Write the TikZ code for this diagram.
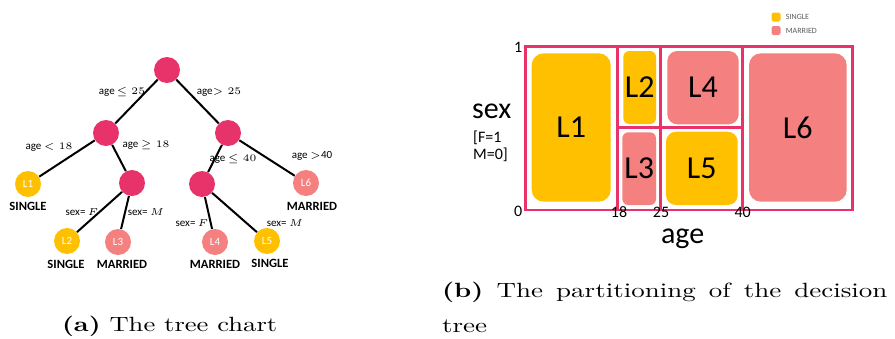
\documentclass[tikz,border=0pt]{standalone}
\usepackage{fontspec}
\usepackage{graphicx}
\newfontfamily\carl{Carlito}
\definecolor{crim}{RGB}{232,51,106}
\definecolor{gold}{RGB}{255,192,0}
\definecolor{salm}{RGB}{244,128,128}
\definecolor{leggray}{RGB}{90,90,90}
\begin{document}
\begin{tikzpicture}[x=0.5pt,y=-0.5pt,
  inner/.style={circle,fill=crim,minimum size=13pt,inner sep=0pt},
  leafy/.style={circle,fill=gold,minimum size=13pt,inner sep=0pt,text=white,font=\carl\fontsize{5.5}{6}\selectfont},
  leafs/.style={circle,fill=salm,minimum size=13pt,inner sep=0pt,text=white,font=\carl\fontsize{5.5}{6}\selectfont},
  edge/.style={line width=1pt,black},
  elab/.style={font=\carl\fontsize{5.5}{6.5}\selectfont,inner sep=0pt},
  cls/.style={font=\carl\bfseries\fontsize{6.3}{7}\selectfont,inner sep=0pt},
  grid/.style={draw=crim,line width=1.25pt},
  boxy/.style={fill=gold},
  boxs/.style={fill=salm},
  blab/.style={font=\carl\fontsize{16}{18}\selectfont,inner sep=0pt},
  tick/.style={font=\carl\fontsize{8}{9}\selectfont,inner sep=0pt},
  axl/.style={font=\carl\fontsize{15}{17}\selectfont,inner sep=0pt},
  legt/.style={font=\carl\fontsize{4}{5}\selectfont,text=leggray,inner sep=0pt,anchor=west},
  captxt/.style={font=\fontsize{10.3}{12.5}\selectfont,inner sep=0pt,anchor=base west}
]
\useasboundingbox (0,0) rectangle (895,338);

% ---------- tree ----------
\node[inner] (r) at (167,70) {};
\node[inner] (a) at (106,133) {};
\node[inner] (b) at (228,133) {};
\node[leafy] (l1) at (28,184) {L1};
\node[inner] (c) at (132,183) {};
\node[inner] (d) at (202,184) {};
\node[leafs] (l6) at (306,183) {L6};
\node[leafy] (l2) at (67,241) {L2};
\node[leafs] (l3) at (118,242) {L3};
\node[leafs] (l4) at (215,242) {L4};
\node[leafy] (l5) at (267,241) {L5};

\draw[edge] (r) -- (a);
\draw[edge] (r) -- (b);
\draw[edge] (a) -- (l1);
\draw[edge] (a) -- (c);
\draw[edge] (b) -- (d);
\draw[edge] (b) -- (l6);
\draw[edge] (c) -- (l2);
\draw[edge] (c) -- (l3);
\draw[edge] (d) -- (l4);
\draw[edge] (d) -- (l5);

\node[elab] (e1) at (122,92) {age\,$\leq 25$};
\node[elab] (e2) at (219,92) {age$>25$};
\node[elab] (e3) at (49,147) {age $<18$};
\node[elab] (e4) at (146,145) {age $\geq 18$};
\node[elab] (e5) at (233,159) {age $\leq 40$};
\node[elab] (e6) at (312,156) {age $>$40};
\node[elab] (e7) at (82,212) {sex= $F$};
\node[elab] (e8) at (146,212) {sex= $M$};
\node[elab] (e9) at (192,223) {sex= $F$};
\node[elab] (e10) at (285,223) {sex= $M$};

\node[cls] (c1) at (28,206) {SINGLE};
\node[cls] (c6) at (312,206) {MARRIED};
\node[cls] (c2) at (66,264) {SINGLE};
\node[cls] (c3) at (122,264) {MARRIED};
\node[cls] (c4) at (215,264) {MARRIED};
\node[cls] (c5) at (270,263) {SINGLE};

% ---------- partition ----------
\fill[boxy,rounded corners=6pt] (531.7,53.3) rectangle (610.7,201.7);
\fill[boxy,rounded corners=3pt] (623.3,51) rectangle (656,124);
\fill[boxs,rounded corners=3pt] (622.3,132.3) rectangle (656,205);
\fill[boxs,rounded corners=5pt] (667.3,51) rectangle (738.7,124.3);
\fill[boxy,rounded corners=5pt] (666,131.7) rectangle (737.7,205);
\fill[boxs,rounded corners=6pt] (749,53.3) rectangle (846.7,201.7);

\node[blab] (p1) at (571.2,127.5) {L1};
\node[blab] (p2) at (639.7,87.5) {L2};
\node[blab] (p3) at (639.2,168.7) {L3};
\node[blab] (p4) at (703,87.7) {L4};
\node[blab] (p5) at (701.8,168.3) {L5};
\node[blab] (p6) at (797.8,127.5) {L6};

\draw[grid] (525.7,46.7) rectangle (852.7,210);
\draw[grid] (617.3,46.7) -- (617.3,210);
\draw[grid] (660.3,46.7) -- (660.3,210);
\draw[grid] (742.7,46.7) -- (742.7,210);
\draw[grid] (617.3,127.7) -- (742.7,127.7);

\node[tick] (t1) at (518.3,47.7) {1};
\node[tick] (t0) at (518.3,211) {0};
\node[tick] (t18) at (619,212.3) {18};
\node[tick] (t25) at (661,212.3) {25};
\node[tick] (t40) at (742.7,212.3) {40};

\node[axl] (ax) at (682.7,239) {age};
\node[axl] (ay) at (491.7,111) {sex};
\node[tick,anchor=west] (fm1) at (472.7,137.7) {[F=1};
\node[tick,anchor=west] (fm2) at (472.7,155) {M=0]};

% legend
\fill[gold,rounded corners=0.8pt] (771.5,12.5) rectangle (780.5,21.5);
\fill[salm,rounded corners=0.8pt] (771.5,26) rectangle (780.5,35);
\node[legt] (lg1) at (785.5,17) {SINGLE};
\node[legt] (lg2) at (785.5,31) {MARRIED};

% ---------- captions ----------
\node[captxt] (capa) at (61.7,331) {\scalebox{1.29}[1]{\textbf{(a)} The tree chart}};
\node[captxt] (capb) at (441.7,297) {\scalebox{1.31}[1]{\makebox[170pt][s]{\textbf{(b)} The partitioning of the decision}}};
\node[captxt] (capb2) at (441.7,332) {\scalebox{1.31}[1]{tree}};
\end{tikzpicture}
\end{document}
